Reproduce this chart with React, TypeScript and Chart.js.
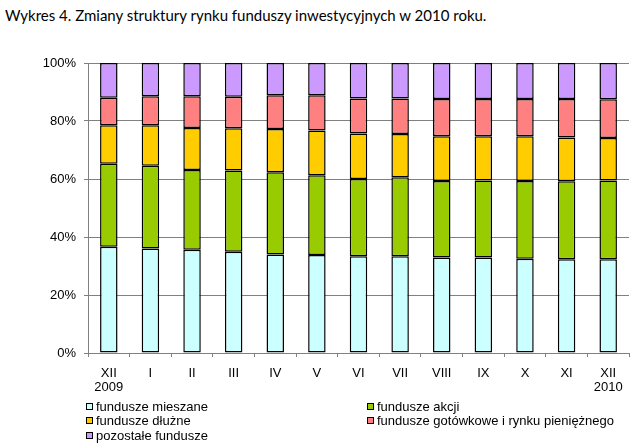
import React, { useEffect, useRef } from "react";
import { Chart, registerables } from "chart.js";

Chart.register(...registerables);

const categories: string[][] = [
  ["XII", "2009"], ["I"], ["II"], ["III"], ["IV"], ["V"], ["VI"], ["VII"], ["VIII"], ["IX"], ["X"], ["XI"], ["XII", "2010"],
];
const yTicks = [0, 20, 40, 60, 80, 100];

const mieszane = [36.6, 36.0, 35.6, 34.9, 34.0, 33.8, 33.4, 33.4, 32.9, 32.9, 32.5, 32.3, 32.3];
const akcji = [28.7, 28.6, 27.5, 28.0, 28.3, 27.5, 26.6, 27.2, 26.4, 26.6, 26.8, 26.9, 27.2];
const dluzne = [13.2, 13.9, 14.5, 14.6, 14.9, 15.4, 15.7, 14.9, 15.4, 15.2, 15.4, 15.1, 14.6];
const gotowkowe = [9.5, 10.0, 10.9, 10.9, 11.7, 12.2, 12.1, 12.3, 12.9, 12.9, 12.9, 13.3, 13.4];
const pozostale = [12.0, 11.5, 11.5, 11.6, 11.1, 11.1, 12.2, 12.2, 12.4, 12.4, 12.4, 12.4, 12.5];

const seriesNames = [
  "fundusze mieszane",
  "fundusze akcji",
  "fundusze dłużne",
  "fundusze gotówkowe i rynku pieniężnego",
  "pozostałe fundusze",
];
const seriesColors = ["#CCFFFF", "#99CC00", "#FFCC00", "#FF8080", "#CC99FF"];
const seriesValues = [mieszane, akcji, dluzne, gotowkowe, pozostale];

const FONT = "'Liberation Sans', Arial, sans-serif";

export default function App() {
  const ref = useRef<HTMLCanvasElement | null>(null);
  useEffect(() => {
    if (!ref.current) return;
    const chart = new Chart(ref.current, {
      type: "bar",
      data: {
        labels: categories,
        datasets: seriesValues.map((vals, i) => ({
          label: seriesNames[i],
          data: vals,
          backgroundColor: seriesColors[i],
          borderColor: "#000000",
          borderWidth: 1.5,
          borderSkipped: false,
          categoryPercentage: 1,
          barPercentage: 0.42,
        })),
      },
      options: {
        animation: false,
        responsive: false,
        maintainAspectRatio: false,
        layout: { padding: { top: 63, right: 11, bottom: 0, left: 0 } },
        plugins: { legend: { display: false }, tooltip: { enabled: false }, title: { display: false } },
        scales: {
          x: {
            stacked: true,
            grid: { offset: true, drawOnChartArea: false, drawTicks: true, tickLength: 4, color: "#808080" },
            border: { color: "#808080" },
            ticks: {
              color: "#000000",
              font: { family: FONT, size: 13, lineHeight: 1.1 },
              padding: 9,
              maxRotation: 0,
              autoSkip: false,
            },
            afterFit: (axis: any) => { axis.height = 47; },
          },
          y: {
            stacked: true,
            min: 0,
            max: 100,
            afterBuildTicks: (axis: any) => { axis.ticks = yTicks.map((v) => ({ value: v })); },
            grid: { color: "#808080", tickLength: 4, drawTicks: true },
            border: { color: "#808080" },
            ticks: {
              color: "#000000",
              font: { family: FONT, size: 13 },
              padding: 8,
              callback: (v: any) => v + "%",
            },
            afterFit: (axis: any) => { axis.width = 88; },
          },
        },
      },
    });
    return () => chart.destroy();
  }, []);

  const legendItem = (i: number, left: number, top: number) => (
    <div key={i} style={{ position: "absolute", left, top, display: "flex", alignItems: "center", height: 14, whiteSpace: "nowrap" }}>
      <span style={{ display: "inline-block", width: 5, height: 5, border: "1px solid #000", background: seriesColors[i], marginRight: 3 }} />
      <span style={{ font: `13px ${FONT}`, color: "#000" }}>{seriesNames[i]}</span>
    </div>
  );

  return (
    <div style={{ position: "fixed", left: 0, top: 0, width: 640, height: 447, background: "#fff", overflow: "hidden" }}>
      <div style={{ position: "absolute", left: 5, top: 6, font: "15px Lato, sans-serif", color: "#000", whiteSpace: "nowrap" }}>
        Wykres 4. Zmiany struktury rynku funduszy inwestycyjnych w 2010 roku.
      </div>
      <canvas ref={ref} width={640} height={400} style={{ position: "absolute", left: 0, top: 0, width: 640, height: 400 }} />
      {legendItem(0, 86, 399)}
      {legendItem(2, 86, 413)}
      {legendItem(4, 86, 428)}
      {legendItem(1, 367, 399)}
      {legendItem(3, 367, 413)}
    </div>
  );
}
